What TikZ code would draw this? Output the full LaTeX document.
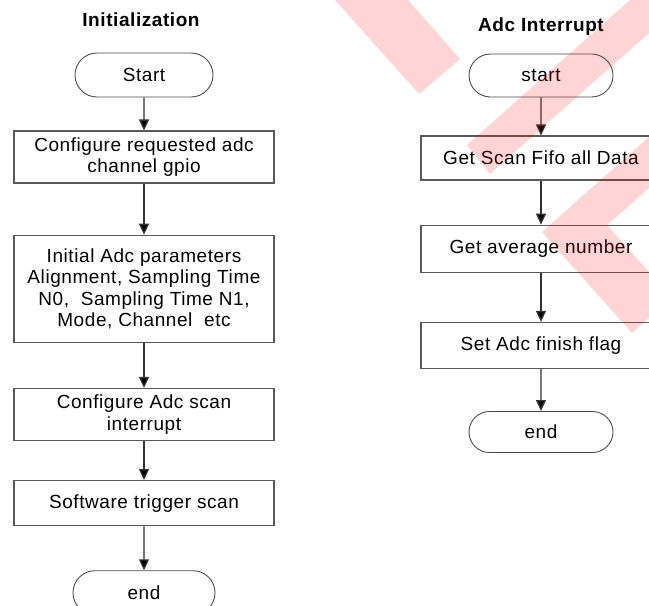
\documentclass[tikz,border=0pt]{standalone}
\usepackage{fontspec}
\setmainfont{Liberation Sans}[LetterSpace=3]
\usepackage{tikz}
\usetikzlibrary{arrows.meta,positioning,shapes.misc}
\tikzstyle{process}=[draw=black!65, line width=1.2pt, rectangle, minimum width=260pt, align=center, inner sep=0pt]
\tikzstyle{terminal}=[draw=black!70, line width=0.9pt, rounded rectangle, minimum width=138pt, minimum height=44pt, inner sep=0pt]
\tikzstyle{heading}=[font=\fontsize{19}{21}\selectfont\bfseries]
\tikzstyle{flow}=[->, line width=1.3pt, draw=black!80]
\tikzstyle{stripe}=[fill=red, fill opacity=0.17, draw=none]

\begin{document}
\begin{tikzpicture}[x=1pt, y=-1pt, font=\fontsize{19}{21.5}\selectfont, >={Triangle[length=11pt,width=10pt]}]
				\useasboundingbox (0,0) rectangle (649,606);
				\clip (0,0) rectangle (649,606);

				% initialization
				\draw node [heading] (initTitle) at (141,20) {Initialization};
				\draw node [terminal] (initStart) at (144,75) {Start};
				\draw node [process, minimum height=52pt, below=33pt of initStart] (gpio) {Configure requested adc\\channel gpio};
				\draw node [process, minimum height=107pt, below=51pt of gpio] (params) {Initial Adc parameters\\Alignment, Sampling Time\\N0,\ \ Sampling Time N1,\\Mode, Channel\ \ etc};
				\draw node [process, minimum height=52pt, below=45pt of params] (scanIrq) {Configure Adc scan\\interrupt};
				\draw node [process, minimum height=45pt, below=39pt of scanIrq] (trigger) {Software trigger scan};
				\draw node [terminal, minimum width=142pt, below=44pt of trigger] (initEnd) {end};

				% adc interrupt
				\draw node [heading] (isrTitle) at (541,27) {Adc Interrupt};
				\draw node [terminal, minimum width=144pt, minimum height=43pt] (isrStart) at (541,75.5) {start};
				\draw node [process, minimum width=240pt, minimum height=44pt, below=38pt of isrStart] (fifo) {Get Scan Fifo all Data};
				\draw node [process, minimum width=240pt, minimum height=47pt, below=44pt of fifo] (average) {Get average number};
				\draw node [process, minimum width=240pt, minimum height=46pt, below=49pt of average] (finish) {Set Adc finish flag};
				\draw node [terminal, minimum width=144pt, minimum height=41pt, below=42pt of finish] (isrEnd) {end};

				\path[flow]
				(initStart) edge (gpio)
				(gpio) edge (params)
				(params) edge (scanIrq)
				(scanIrq) edge (trigger)
				(trigger) edge (initEnd)

				(isrStart) edge (fifo)
				(fifo) edge (average)
				(average) edge (finish)
				(finish) edge (isrEnd)
				;

				% watermark
				\fill[stripe] (335,0) -- (408,0) -- (460,59) -- (419,94) -- cycle;
				\fill[stripe] (467,145) -- (490,174) -- (649,33) -- (649,0) -- (630,0) -- cycle;
				\fill[stripe] (542,232) -- (632,333) -- (649,318) -- (649,272) -- (607,225) -- (649,188) -- (649,137) -- cycle;
\end{tikzpicture}
\end{document}
